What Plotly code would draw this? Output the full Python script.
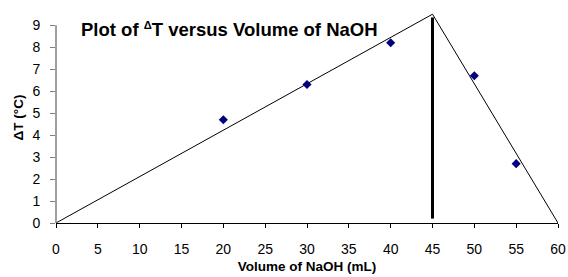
import plotly.graph_objects as go

# Data
volume = [20, 30, 40, 50, 55]
delta_t = [4.7, 6.3, 8.2, 6.7, 2.7]
fit_x = [0, 45, 60]
fit_y = [0, 9.5, 0]
endpoint_x = [45, 45]
endpoint_y = [0.2, 9.35]
x_ticks = list(range(0, 61, 5))
y_ticks = list(range(0, 10))

FONT = "Liberation Sans, Arial, sans-serif"

fig = go.Figure()
fig.add_trace(go.Scatter(x=fit_x, y=fit_y, mode="lines",
                         line=dict(color="black", width=1), hoverinfo="skip"))
fig.add_trace(go.Scatter(x=endpoint_x, y=endpoint_y, mode="lines",
                         line=dict(color="black", width=3), hoverinfo="skip"))
fig.add_trace(go.Scatter(x=volume, y=delta_t, mode="markers",
                         marker=dict(symbol="diamond", size=7, color="#000080"),
                         cliponaxis=False))

fig.update_layout(
    width=568, height=277,
    margin=dict(l=56, r=10, t=12, b=54, autoexpand=False),
    paper_bgcolor="white", plot_bgcolor="white",
    showlegend=False,
    font=dict(family=FONT, color="black", size=14),
    xaxis=dict(range=[0, 60], tickvals=x_ticks, showgrid=False, zeroline=False,
               automargin=False,
               showline=True, linecolor="black", linewidth=1,
               ticks="outside", ticklen=4, tickcolor="black",
               ticklabelstandoff=9,
               tickfont=dict(size=14, family=FONT),
               title=dict(text="<b>Volume of NaOH (mL)</b>", font=dict(size=13.5, family=FONT),
                          standoff=5)),
    yaxis=dict(range=[0, 9.6], tickvals=y_ticks, showgrid=False, zeroline=False,
               automargin=False,
               showline=False,
               ticks="outside", ticklen=5, tickcolor="#808080",
               ticklabelstandoff=7,
               tickfont=dict(size=14, family=FONT),
               title=dict(text="<b>ΔT (°C)</b>", font=dict(size=13.5, family=FONT),
                          standoff=5)),
    annotations=[dict(text="<b>Plot of <span style='font-size:16px'><sup>Δ</sup></span>T versus Volume of NaOH</b>",
                      xref="paper", yref="paper", x=0.045, y=0.915,
                      xanchor="left", yanchor="middle", showarrow=False,
                      font=dict(size=18.5, family=FONT, color="black"))],
    shapes=[dict(type="line", xref="paper", yref="y", x0=0, x1=0, y0=0, y1=9,
                 line=dict(color="#808080", width=1.5))],
)

fig.write_html("out.html", config={"displayModeBar": False},
               post_script="document.body.style.margin='0';document.body.style.padding='0';")
